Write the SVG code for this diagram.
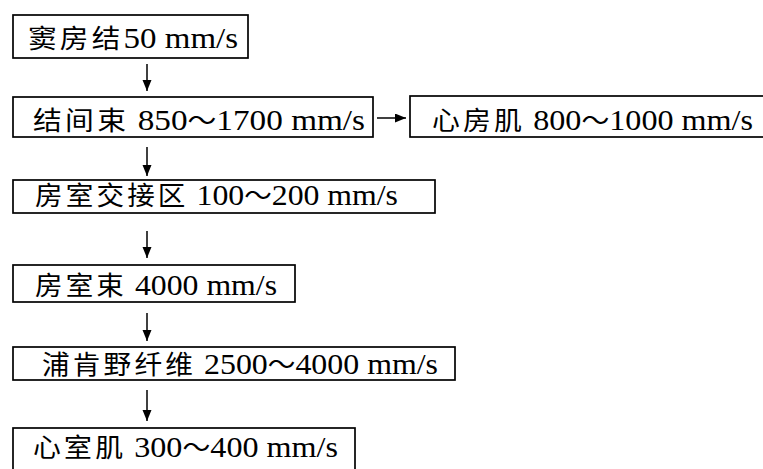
<svg xmlns="http://www.w3.org/2000/svg" width="763" height="469" viewBox="0 0 763 469">
<style>
.box{fill:#fff;stroke:#000;stroke-width:1.7}
.t{font-family:"Liberation Serif","Noto Sans CJK SC",serif;font-size:30px;fill:#000}
.k{font-family:"Noto Sans CJK SC",sans-serif;font-size:26px;letter-spacing:3px}
.w{font-family:"Noto Sans CJK SC",sans-serif;font-size:26px}
.c{stroke:#000;stroke-width:1.5;fill:none;marker-end:url(#ah)}
</style>
<defs>
<marker id="ah" markerUnits="userSpaceOnUse" markerWidth="12" markerHeight="10" refX="11" refY="4.5" orient="auto">
<path d="M0,0 L11,4.5 L0,9 Z" fill="#000"/>
</marker>
</defs>
<rect width="763" height="469" fill="#fff"/>
<g id="connectors">
<line class="c" x1="147" y1="64" x2="147" y2="91"/>
<line class="c" x1="147" y1="147" x2="147" y2="176"/>
<line class="c" x1="147" y1="231" x2="147" y2="258"/>
<line class="c" x1="147" y1="313" x2="147" y2="341"/>
<line class="c" x1="147" y1="390" x2="147" y2="421"/>
<line class="c" x1="377" y1="118" x2="406" y2="118"/>
</g>
<g id="n1">
<rect class="box" x="13" y="15" width="235" height="43"/>
<text class="t" x="28" y="48" textLength="210" lengthAdjust="spacingAndGlyphs"><tspan class="k">窦房结</tspan>50 mm/s</text>
</g>
<g id="n2">
<rect class="box" x="13" y="97" width="360" height="40"/>
<text class="t" x="33" y="130" textLength="332" lengthAdjust="spacingAndGlyphs"><tspan class="k">结间束</tspan> 850<tspan class="w">～</tspan>1700 mm/s</text>
</g>
<g id="n3">
<rect class="box" x="410" y="96" width="360" height="41"/>
<text class="t" x="432" y="130" textLength="321" lengthAdjust="spacingAndGlyphs"><tspan class="k">心房肌</tspan> 800<tspan class="w">～</tspan>1000 mm/s</text>
</g>
<g id="n4">
<rect class="box" x="13" y="180" width="422" height="33"/>
<text class="t" x="35" y="205" textLength="363" lengthAdjust="spacingAndGlyphs"><tspan class="k">房室交接区</tspan> 100<tspan class="w">～</tspan>200 mm/s</text>
</g>
<g id="n5">
<rect class="box" x="13" y="265" width="282" height="37"/>
<text class="t" x="35" y="295" textLength="242" lengthAdjust="spacingAndGlyphs"><tspan class="k">房室束</tspan> 4000 mm/s</text>
</g>
<g id="n6">
<rect class="box" x="13" y="347" width="442" height="33"/>
<text class="t" x="42" y="374" textLength="396" lengthAdjust="spacingAndGlyphs"><tspan class="k">浦肯野纤维</tspan> 2500<tspan class="w">～</tspan>4000 mm/s</text>
</g>
<g id="n7">
<rect class="box" x="13" y="428" width="342" height="50"/>
<text class="t" x="33" y="457" textLength="305" lengthAdjust="spacingAndGlyphs"><tspan class="k">心室肌</tspan> 300<tspan class="w">～</tspan>400 mm/s</text>
</g>
</svg>
